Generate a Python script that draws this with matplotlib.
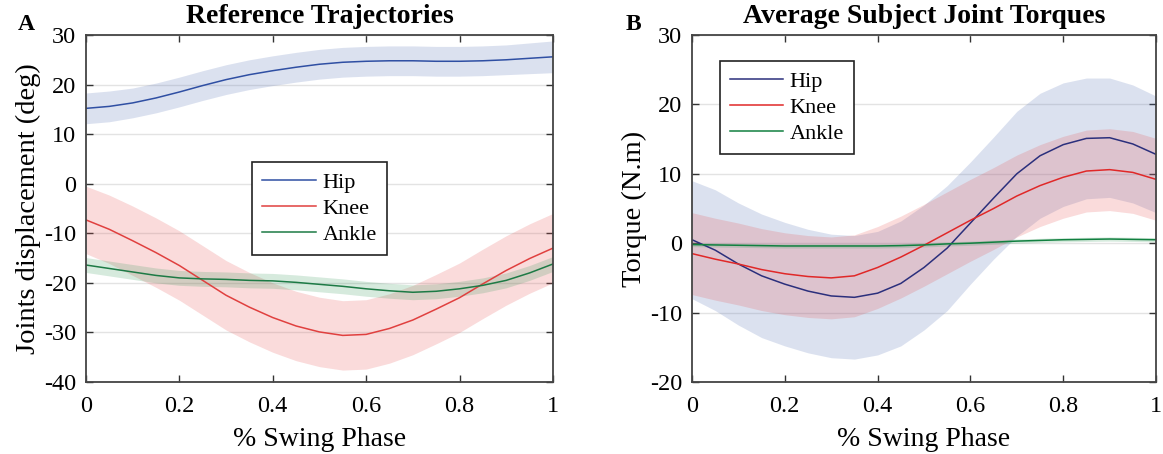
import numpy as np
import matplotlib.pyplot as plt

plt.rcParams['font.family'] = ['Liberation Serif', 'DejaVu Serif']
plt.rcParams['axes.unicode_minus'] = False

# swing phase sample points
phase = [0.0, 0.05, 0.1, 0.15, 0.2, 0.25, 0.3, 0.35, 0.4, 0.45, 0.5,
         0.55, 0.6, 0.65, 0.7, 0.75, 0.8, 0.85, 0.9, 0.95, 1.0]

# reference joint trajectories (deg), mean and std
hip_ang = [15.2, 15.6, 16.3, 17.3, 18.5, 19.8, 21.0, 22.0, 22.8, 23.5, 24.1,
           24.5, 24.7, 24.8, 24.8, 24.7, 24.7, 24.8, 25.0, 25.3, 25.6]
hip_ang_sd = [3.1, 3.1, 3.0, 3.0, 3.0, 3.0, 3.0, 3.0, 3.0, 3.0, 3.0,
              3.0, 3.0, 3.0, 3.0, 3.0, 3.0, 3.0, 3.0, 3.1, 3.2]
knee_ang = [-7.3, -9.2, -11.5, -13.9, -16.5, -19.5, -22.5, -24.9, -27.0, -28.7, -29.9,
            -30.6, -30.4, -29.2, -27.5, -25.3, -23.0, -20.2, -17.5, -15.1, -13.0]
knee_ang_sd = [6.8, 6.9, 7.0, 7.0, 7.0, 7.0, 7.0, 7.0, 7.0, 7.0, 7.0,
               7.0, 7.0, 7.0, 7.0, 7.0, 7.0, 7.0, 7.0, 7.0, 7.0]
ankle_ang = [-16.4, -17.1, -17.8, -18.5, -19.0, -19.2, -19.3, -19.5, -19.6, -19.9, -20.3,
             -20.7, -21.2, -21.6, -21.9, -21.7, -21.2, -20.5, -19.5, -18.0, -16.2]
ankle_ang_sd = [1.5] * 21

# average subject joint torques (N.m), mean and std
hip_tq = [0.5, -1.0, -3.0, -4.7, -5.9, -6.9, -7.6, -7.8, -7.2, -5.8, -3.5,
          -0.7, 2.9, 6.5, 10.0, 12.6, 14.2, 15.1, 15.2, 14.3, 12.8]
hip_tq_sd = [8.5, 8.7, 8.8, 8.9, 8.9, 8.9, 8.9, 8.9, 8.9, 9.0, 9.0,
             9.0, 8.8, 8.8, 9.0, 9.0, 8.9, 8.7, 8.6, 8.5, 8.4]
knee_tq = [-1.5, -2.3, -3.0, -3.8, -4.4, -4.8, -5.0, -4.7, -3.5, -2.0, -0.3,
           1.5, 3.3, 5.0, 6.8, 8.3, 9.5, 10.4, 10.6, 10.2, 9.2]
knee_tq_sd = [5.9, 5.9, 5.9, 5.9, 5.9, 5.9, 5.9, 5.9, 5.9, 5.9, 5.9,
              5.9, 5.9, 5.9, 5.9, 5.9, 5.9, 5.9, 5.9, 5.9, 5.9]
ankle_tq = [-0.2, -0.25, -0.3, -0.35, -0.4, -0.4, -0.4, -0.4, -0.4, -0.35, -0.25,
            -0.1, 0.0, 0.15, 0.3, 0.4, 0.5, 0.55, 0.6, 0.55, 0.5]
ankle_tq_sd = [0.3] * 21

labels = ['Hip', 'Knee', 'Ankle']
band_cols = [(0.30, 0.42, 0.70), (0.90, 0.30, 0.30), (0.20, 0.60, 0.35)]

x = np.array(phase)

fig = plt.figure(figsize=(11.63, 4.54), dpi=100)
axA = fig.add_axes([0.0739, 0.1586, 0.4015, 0.7643])
axB = fig.add_axes([0.595, 0.1586, 0.399, 0.7643])


def draw_panel(ax, means, sds, line_cols):
    for m, s, bc in zip(means, sds, band_cols):
        m = np.array(m)
        s = np.array(s)
        ax.fill_between(x, m - s, m + s, color=bc, alpha=0.2, linewidth=0)
    for m, lc, lab in zip(means, line_cols, labels):
        ax.plot(x, m, color=lc, lw=1.1, label=lab)
    ax.set_xlim(0, 1)
    ax.set_xticks([0, 0.2, 0.4, 0.6, 0.8, 1])
    ax.set_xticklabels(['0', '0.2', '0.4', '0.6', '0.8', '1'])
    ax.yaxis.grid(True, color='#e3e3e3', lw=1.0)
    ax.set_axisbelow(True)
    ax.tick_params(direction='in', top=True, right=True, labelsize=17.5,
                   length=5, width=1.0, color='#333333', pad=7)
    ax.tick_params(axis='x', pad=10)
    for sp in ax.spines.values():
        sp.set_color('#444444')
        sp.set_linewidth(1.3)
    ax.set_xlabel('% Swing Phase', fontsize=20, labelpad=7)


def add_legend(ax, **kw):
    leg = ax.legend(fontsize=16, frameon=True, fancybox=False, framealpha=1,
                    edgecolor='#222222', handlelength=2.4, handletextpad=0.3,
                    borderpad=0.45, labelspacing=0.25, borderaxespad=0, **kw)
    leg.get_frame().set_linewidth(1.2)


draw_panel(axA, [hip_ang, knee_ang, ankle_ang],
           [hip_ang_sd, knee_ang_sd, ankle_ang_sd],
           ['#2f4fa3', '#e0403f', '#1d7a45'])
axA.set_ylim(-40, 30)
axA.set_yticks(range(-40, 31, 10))
axA.set_ylabel('Joints displacement (deg)', fontsize=20.5, labelpad=2)
axA.set_title('Reference Trajectories', fontsize=20, fontweight='bold', pad=9)
add_legend(axA, loc='center')

draw_panel(axB, [hip_tq, knee_tq, ankle_tq],
           [hip_tq_sd, knee_tq_sd, ankle_tq_sd],
           ['#2b2f7c', '#e02828', '#118040'])
axB.set_ylim(-20, 30)
axB.set_yticks(range(-20, 31, 10))
axB.set_ylabel('Torque (N.m)', fontsize=20.5, labelpad=2)
axB.set_title('Average Subject Joint Torques', fontsize=20, fontweight='bold', pad=9)
add_legend(axB, loc='upper left', bbox_to_anchor=(0.06, 0.925))

fig.text(0.015, 0.935, 'A', fontsize=17, fontweight='bold')
fig.text(0.538, 0.935, 'B', fontsize=17, fontweight='bold')

fig.savefig('out.png', dpi=100)
